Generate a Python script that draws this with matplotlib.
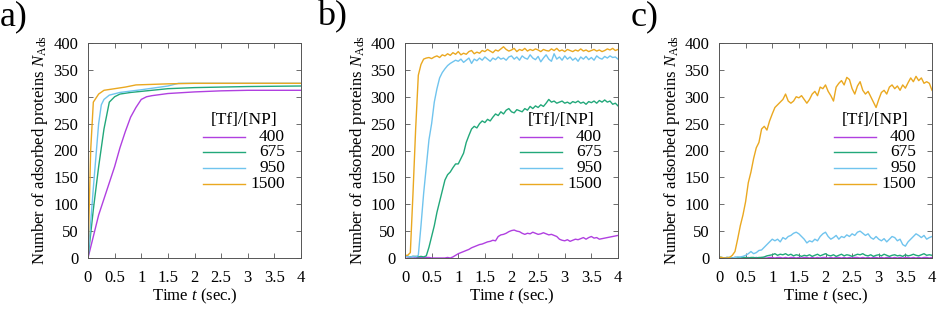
import numpy as np
import matplotlib
matplotlib.use("Agg")
import matplotlib.pyplot as plt
from matplotlib.lines import Line2D

plt.rcParams["font.family"] = ["Liberation Serif", "DejaVu Serif"]
plt.rcParams["mathtext.fontset"] = "custom"
plt.rcParams["mathtext.rm"] = "Liberation Serif"
plt.rcParams["mathtext.it"] = "Liberation Serif:italic"

# ---------- data ----------
ratios = ["400", "675", "950", "1500"]
colors = ["#b040e0", "#22a87a", "#70c4ee", "#eaa820"]

# panel a: smooth curves, read at irregular times
t_a_400 = [0, 0.1, 0.2, 0.3, 0.4, 0.5, 0.6, 0.7, 0.8, 0.9, 1.0, 1.1, 1.2, 1.5, 2.0, 2.5, 3.0, 4.0]
n_a_400 = [0, 40, 80, 110, 140, 170, 205, 235, 262, 280, 295, 300, 302, 306, 309, 311, 312, 312]
t_a_675 = [0, 0.1, 0.2, 0.3, 0.4, 0.5, 0.6, 0.8, 1.0, 1.5, 2.0, 2.5, 3.0, 4.0]
n_a_675 = [0, 90, 170, 240, 290, 300, 305, 308, 310, 315, 317, 318, 319, 320]
t_a_950 = [0, 0.1, 0.2, 0.25, 0.3, 0.4, 0.6, 1.0, 1.5, 1.7, 2.0, 4.0]
n_a_950 = [0, 130, 250, 285, 295, 303, 308, 313, 320, 325, 325, 325]
t_a_1500 = [0, 0.05, 0.1, 0.2, 0.3, 0.5, 0.7, 0.9, 1.5, 2.0, 4.0]
n_a_1500 = [0, 200, 290, 305, 312, 315, 318, 322, 324, 325, 325]

# panels b and c: sampled every 0.05 s from 0 to 4 s
t_bc = np.round(np.arange(0, 4.0001, 0.05), 2)

n_b_400 = [3, 2, 2, 2, 1, 1, 1, 1, 1, 1, 0, 0, 0, 0, 0, 0, 1, 0, 2, 5,
           8, 10, 12, 14, 16, 19, 21, 23, 25, 26, 28, 30, 31, 33, 32, 40, 43, 44, 46, 49,
           51, 52, 50, 49, 46, 44, 46, 45, 48, 46, 44, 45, 47, 45, 43, 44, 42, 40, 35, 33,
           32, 34, 31, 33, 35, 34, 36, 38, 35, 38, 40, 37, 38, 35, 36, 37, 38, 39, 40, 41,
           42]
n_b_675 = [3, 3, 2, 3, 3, 2, 3, 2, 4, 20, 40, 60, 85, 105, 125, 145, 155, 160, 168, 175,
           175, 185, 195, 215, 228, 240, 245, 242, 250, 255, 252, 258, 255, 262, 268, 265, 272, 268, 275, 278,
           272, 270, 276, 274, 272, 278, 275, 282, 278, 283, 280, 285, 282, 288, 295, 290, 292, 288, 290, 292,
           288, 290, 287, 291, 289, 292, 288, 290, 286, 291, 289, 292, 288, 293, 290, 294, 290, 292, 286, 288,
           283]
n_b_950 = [3, 3, 2, 3, 2, 5, 60, 120, 170, 220, 250, 290, 315, 335, 345, 352, 358, 362, 365, 368,
           366, 370, 364, 368, 372, 362, 370, 367, 372, 368, 374, 370, 366, 372, 369, 374, 370, 372, 368, 374,
           376, 370, 374, 368, 376, 372, 370, 378, 372, 369, 375, 365, 372, 378, 370, 366, 380, 370, 374, 368,
           376, 370, 374, 368, 372, 366, 374, 370, 375, 369, 373, 368, 376, 372, 370, 375, 372, 376, 373, 374,
           370]
n_b_1500 = [5, 5, 10, 120, 240, 340, 360, 370, 372, 373, 371, 374, 376, 373, 378, 376, 380, 377, 382, 379,
            384, 378, 381, 379, 384, 386, 380, 383, 381, 386, 384, 388, 385, 382, 387, 385, 389, 393, 388, 385,
            387, 390, 384, 388, 386, 390, 385, 388, 386, 389, 387, 384, 388, 386, 385, 389, 386, 390, 385, 387,
            384, 388, 386, 384, 387, 385, 389, 385, 387, 384, 386, 388, 385, 387, 384, 386, 389, 387, 390, 386,
            388]

n_c_400 = [1, 0, 0, 1, 0, 0, 1, 0, 0, 1, 0, 1, 0, 0, 1, 0, 1, 0, 0, 1,
           1, 0, 1, 1, 0, 1, 0, 1, 1, 0, 1, 0, 1, 1, 0, 1, 0, 1, 0, 1,
           1, 0, 1, 0, 1, 1, 0, 1, 0, 1, 0, 1, 1, 0, 1, 0, 1, 0, 1, 1,
           0, 1, 0, 1, 1, 0, 1, 0, 1, 0, 1, 1, 0, 1, 0, 1, 0, 1, 1, 0,
           1]
n_c_675 = [1, 1, 0, 1, 1, 0, 1, 1, 0, 1, 1, 0, 1, 1, 0, 1, 1, 2, 4, 5,
           6, 8, 5, 7, 6, 8, 5, 7, 4, 6, 5, 3, 5, 4, 6, 3, 5, 7, 4, 6,
           8, 5, 4, 6, 3, 5, 7, 4, 6, 5, 3, 5, 7, 6, 8, 5, 4, 6, 3, 5,
           6, 4, 7, 5, 3, 5, 6, 4, 5, 3, 6, 4, 5, 7, 5, 4, 6, 8, 5, 6,
           5]
n_c_950 = [2, 1, 0, 0, 1, 0, 1, 2, 2, 3, 5, 8, 12, 8, 10, 14, 15, 20, 25, 30,
           35, 32, 35, 30, 38, 35, 40, 42, 46, 48, 45, 40, 35, 28, 32, 30, 35, 32, 40, 45,
           48, 40, 35, 38, 42, 35, 40, 38, 43, 40, 45, 42, 48, 50, 46, 42, 45, 38, 35, 40,
           35, 32, 36, 30, 35, 40, 38, 32, 35, 25, 22, 30, 35, 40, 45, 42, 38, 42, 35, 38,
           40]
n_c_1500 = [2, 1, 0, 0, 1, 5, 12, 35, 60, 80, 105, 140, 160, 185, 205, 215, 240, 245, 238, 255,
            268, 280, 285, 290, 295, 305, 292, 288, 292, 300, 298, 302, 295, 288, 295, 305, 310, 302, 318, 315,
            322, 310, 302, 292, 318, 325, 330, 322, 336, 332, 315, 305, 320, 328, 312, 305, 310, 300, 290, 280,
            295, 308, 312, 305, 318, 322, 315, 320, 312, 322, 316, 326, 335, 328, 338, 330, 335, 325, 328, 325,
            312]

panels = [
    ("a)", [(t_a_400, n_a_400), (t_a_675, n_a_675), (t_a_950, n_a_950), (t_a_1500, n_a_1500)]),
    ("b)", [(t_bc, n_b_400), (t_bc, n_b_675), (t_bc, n_b_950), (t_bc, n_b_1500)]),
    ("c)", [(t_bc, n_c_400), (t_bc, n_c_675), (t_bc, n_c_950), (t_bc, n_c_1500)]),
]

fig = plt.figure(figsize=(9.41, 3.10), dpi=100)
lefts = [88 / 941, 405 / 941, 719 / 941]
w, h, b = 213 / 941, 215 / 310, 52 / 310

for (tag, series), left in zip(panels, lefts):
    ax = fig.add_axes([left, b, w, h])
    for (t, n), c in zip(series, colors):
        ax.plot(t, n, color=c, lw=1.0)
    ax.set_xlim(0, 4)
    ax.set_ylim(0, 400)
    ax.set_xticks(np.arange(0, 4.01, 0.5))
    ax.set_xticklabels(["0", "0.5", "1", "1.5", "2", "2.5", "3", "3.5", "4"])
    ax.set_yticks(np.arange(0, 401, 50))
    ax.tick_params(direction="in", top=True, right=True, length=3.5, width=0.6,
                   labelsize=12, color="#555555")
    ax.tick_params(axis="x", pad=9)
    ax.tick_params(axis="y", pad=7)
    for s in ax.spines.values():
        s.set_linewidth(0.7)
        s.set_color("#555555")
    ax.set_xlabel("Time $t$ (sec.)", fontsize=12, labelpad=0)
    ax.set_ylabel("Number of adsorbed proteins $N_{\\rm Ads}$", fontsize=12, labelpad=2)

    # gnuplot-style key: title centred, short line on left, label right-aligned
    ax.text(0.735, 0.64, "[Tf]/[NP]", transform=ax.transAxes, ha="center",
            va="center", fontsize=12.5)
    for k, (lab, c) in enumerate(zip(ratios, colors)):
        y = 0.565 - 0.073 * k
        ax.add_line(Line2D([0.54, 0.735], [y, y], transform=ax.transAxes, color=c, lw=1.0))
        ax.text(0.925, y, lab, transform=ax.transAxes, ha="right", va="center", fontsize=12.5)

    fig.text(left - 88 / 941, 1.0, tag, ha="left", va="top", fontsize=26)

fig.savefig("out.png", dpi=100)
